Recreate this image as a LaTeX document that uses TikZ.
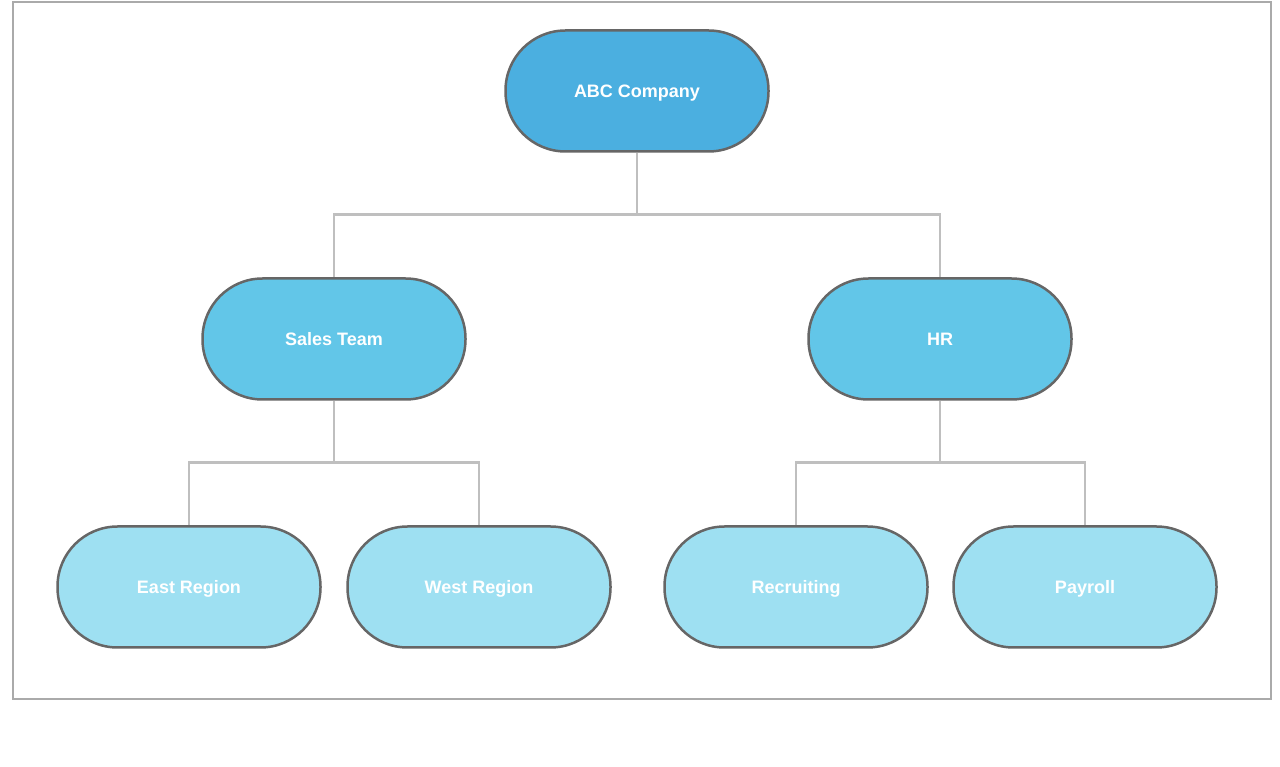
\documentclass[tikz,border=0pt]{standalone}
\usepackage{fontspec}
\setmainfont{Liberation Sans}
\definecolor{lvlA}{HTML}{4BAFE0}
\definecolor{lvlB}{HTML}{62C6E8}
\definecolor{lvlC}{HTML}{9EE0F2}
\definecolor{edgegray}{HTML}{666666}
\definecolor{linkgray}{HTML}{BFBFBF}
\definecolor{framegray}{HTML}{AAAAAA}
\tikzset{
  pill/.style={draw=edgegray, line width=2.5pt, rounded corners=60pt,
    minimum width=263pt, minimum height=121pt, inner sep=0pt,
    text height=13pt, text depth=0pt,
    text=white, font=\bfseries\fontsize{18}{21}\selectfont},
  link/.style={draw=linkgray, line width=2.5pt}
}
\begin{document}
\begin{tikzpicture}[x=1pt,y=1pt]
\useasboundingbox (0,0) rectangle (1280,766);
\draw[framegray, line width=1.5pt] (13,67) rectangle (1271,764);
\node[pill, fill=lvlA] (abc) at (637,675) {ABC Company};
\node[pill, fill=lvlB] (sales) at (334,427) {Sales Team};
\node[pill, fill=lvlB] (hr) at (940,427) {HR};
\node[pill, fill=lvlC] (east) at (189,179) {East Region};
\node[pill, fill=lvlC] (west) at (479,179) {West Region};
\node[pill, fill=lvlC] (rec) at (796,179) {Recruiting};
\node[pill, fill=lvlC] (pay) at (1085,179) {Payroll};
\draw[link] (abc.south) -- ++(0,-62) -| (sales.north);
\draw[link] (abc.south) ++(0,-62) -| (hr.north);
\draw[link] (sales.south) -- ++(0,-62) -| (east.north);
\draw[link] (sales.south) ++(0,-62) -| (west.north);
\draw[link] (hr.south) -- ++(0,-62) -| (rec.north);
\draw[link] (hr.south) ++(0,-62) -| (pay.north);
\end{tikzpicture}
\end{document}
